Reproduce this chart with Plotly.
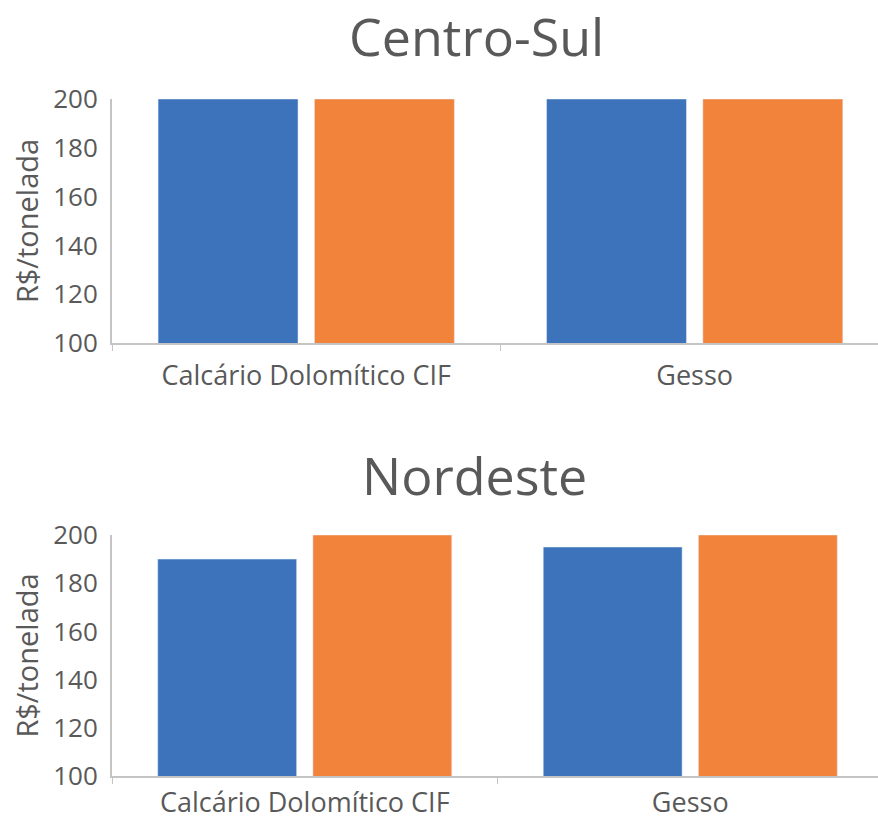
import plotly.graph_objects as go

# Product categories and prices (R$/tonelada) per region
categories = ["Calcário Dolomítico CIF", "Gesso"]
centro_sul_a = [200, 200]
centro_sul_b = [200, 200]
nordeste_a = [190, 195]
nordeste_b = [200, 200]
y_ticks = [100, 120, 140, 160, 180, 200]

BLUE = "#3c73bb"
ORANGE = "#f2833b"
TEXT = "#595959"
AXIS = "#c4c4c4"
FONT = "Open Sans"

W, H = 878, 819


def py(px):
    return 1 - px / H


fig = go.Figure()

fig.add_trace(go.Bar(x=categories, y=centro_sul_a, marker_color=BLUE, xaxis="x", yaxis="y", showlegend=False))
fig.add_trace(go.Bar(x=categories, y=centro_sul_b, marker_color=ORANGE, xaxis="x", yaxis="y", showlegend=False))
fig.add_trace(go.Bar(x=categories, y=nordeste_a, marker_color=BLUE, xaxis="x2", yaxis="y2", showlegend=False))
fig.add_trace(go.Bar(x=categories, y=nordeste_b, marker_color=ORANGE, xaxis="x2", yaxis="y2", showlegend=False))

xcommon = dict(
    type="category", automargin=False,
    showline=True, linecolor=AXIS, linewidth=2,
    ticks="outside", tickson="boundaries", ticklen=6, tickcolor=AXIS,
    tickfont=dict(family=FONT, size=27, color=TEXT),
    showgrid=False, zeroline=False, fixedrange=True,
)
ycommon = dict(
    range=[100, 200], tickvals=y_ticks, automargin=False,
    showline=True, linecolor=AXIS, linewidth=2,
    ticks="", showgrid=False, zeroline=False,
    tickfont=dict(family=FONT, size=26, color=TEXT),
    ticklabelstandoff=7,
    title=dict(text="R$/tonelada", font=dict(family=FONT, size=29, color=TEXT), standoff=6),
)

x0 = 112 / W
fig.update_layout(
    width=W, height=H,
    margin=dict(l=0, r=0, t=0, b=0),
    paper_bgcolor="white", plot_bgcolor="white",
    barmode="group", bargap=0.195, bargroupgap=0.105,
    xaxis=dict(domain=[x0, 1], anchor="y", range=[-0.5, 1.472], ticklabelstandoff=8, **xcommon),
    yaxis=dict(domain=[py(343), py(99)], anchor="x", **ycommon),
    xaxis2=dict(domain=[x0, 1], anchor="y2", range=[-0.5, 1.487], ticklabelstandoff=2, **xcommon),
    yaxis2=dict(domain=[py(776), py(535)], anchor="x2", **ycommon),
    annotations=[
        dict(text="Centro-Sul", x=476 / W, y=py(36), xref="paper", yref="paper",
             showarrow=False, xanchor="center", yanchor="middle",
             font=dict(family=FONT, size=52, color=TEXT)),
        dict(text="Nordeste", x=474 / W, y=py(474), xref="paper", yref="paper",
             showarrow=False, xanchor="center", yanchor="middle",
             font=dict(family=FONT, size=52, color=TEXT)),
    ],
)

fig.write_html("out.html")
